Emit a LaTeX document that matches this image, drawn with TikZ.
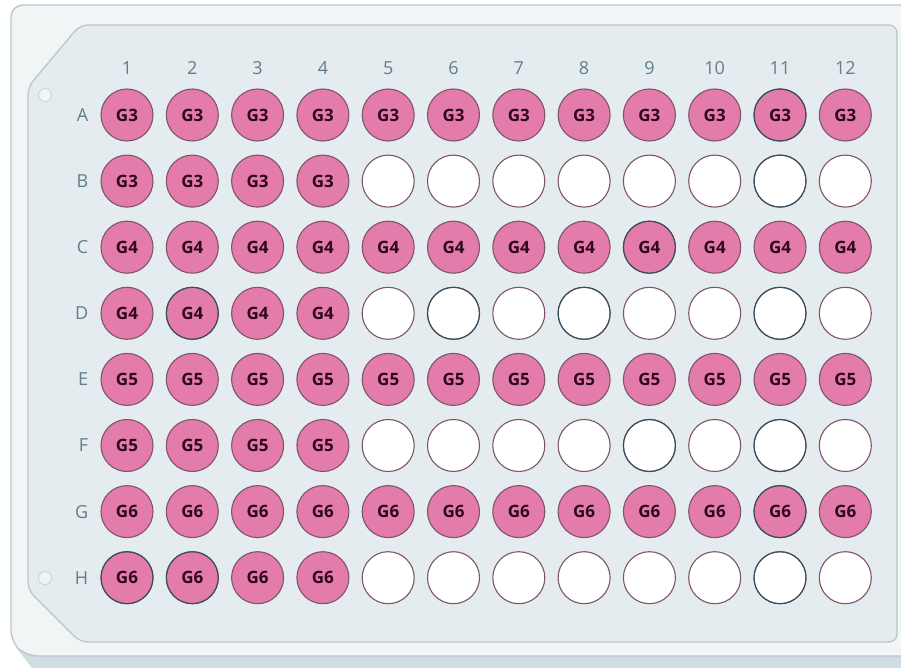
\documentclass[tikz,border=0pt]{standalone}
\usepackage{fontspec}
\setmainfont{Open Sans}
\usetikzlibrary{positioning}

\definecolor{plateouter}{RGB}{241,245,246}
\definecolor{platein}{RGB}{229,236,239}
\definecolor{platerim}{RGB}{184,199,205}
\definecolor{platebase}{RGB}{208,221,226}
\definecolor{wellpink}{RGB}{227,124,170}
\definecolor{wellrim}{RGB}{125,85,105}
\definecolor{wellrimdark}{RGB}{55,78,90}
\definecolor{welltext}{RGB}{48,8,28}
\definecolor{labelblue}{RGB}{96,126,141}

\begin{document}
\begin{tikzpicture}[
    x=1pt, y=-1pt,
    well/.style={
        circle,
        draw=wellrim,
        line width=1.1pt,
        minimum size=52pt,
        inner sep=0pt,
        text=welltext,
        font=\bfseries\fontsize{17}{17}\selectfont
    },
    sample/.style={well, fill=wellpink},
    vacant/.style={well, fill=white},
    darkrim/.style={draw=wellrimdark},
    lab/.style={
        inner sep=0pt,
        text=labelblue,
        font=\fontsize{18}{18}\selectfont
    },
    plate/.style={draw=platerim, line width=1.3pt}
]
\useasboundingbox (0,0) rectangle (901,668);
\clip (0,0) rectangle (901,668);

% plate body
\fill[platebase] (18,650) -- (32,668) -- (901,668) -- (901,650) -- cycle;
\draw[plate, fill=plateouter, rounded corners=12pt]
    (11,5) -- (915,5) -- (915,656) -- (26,656) -- (11,642) -- cycle;
\draw[plate, fill=platein, rounded corners=8pt]
    (80,25) -- (897,25) -- (897,642) -- (80,642) -- (28,590) -- (28,87) -- cycle;
\node[circle, draw=platerim!80, fill=plateouter, minimum size=13pt, line width=0.8pt] (pinA) at (45,95) {};
\node[circle, draw=platerim!80, fill=plateouter, minimum size=13pt, line width=0.8pt] (pinH) at (45,578) {};

% wells
\foreach \r/\g/\n [count=\i from 0] in {A/3/12,B/3/4,C/4/12,D/4/4,E/5/12,F/5/4,G/6/12,H/6/4}{
    \foreach \c in {1,...,12}{
        \ifnum\c>\n
            \node[vacant] (\r\c) at ({127+65.3*(\c-1)},{115+66.1*\i}) {};
        \else
            \node[sample] (\r\c) at ({127+65.3*(\c-1)},{115+66.1*\i}) {G\g};
        \fi
    }
    \node[lab, left=12pt of \r1] (row\r) {\r};
}
\foreach \w in {A11,B11,C9,D2,D6,D8,D11,F9,F11,G11,H1,H2,H11}
    \draw[darkrim, line width=1.1pt] (\w) circle (26pt);

% column numbers
\foreach \c in {1,...,12}
    \node[lab, above=14pt of A\c] (col\c) {\c};

\end{tikzpicture}
\end{document}
